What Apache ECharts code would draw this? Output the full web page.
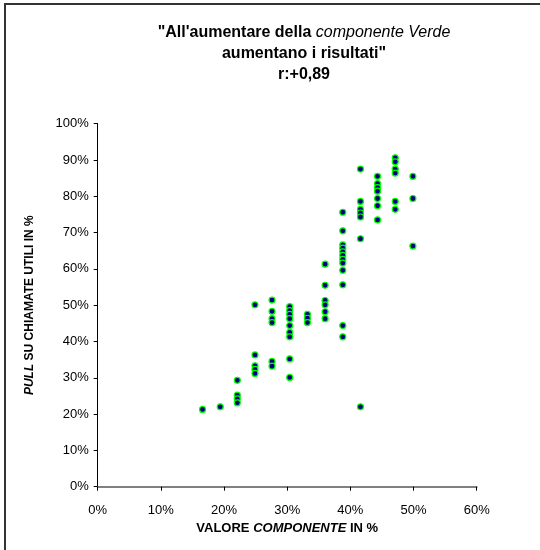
<!DOCTYPE html>
<html>
<head>
<meta charset="utf-8">
<script src="https://cdn.jsdelivr.net/npm/echarts@6/dist/echarts.min.js"></script>
<style>
    html, body { margin: 0; padding: 0; background: #fff; }
    #chart { width: 540px; height: 550px; }
</style>
</head>
<body>
<div id="chart"></div>
<script>
// valore componente verde (%) per colonna
const componente = [16.6, 19.4, 22.1, 24.9, 27.6, 30.4, 33.2, 36.0, 38.8, 41.6, 44.3, 47.1, 49.9]

// pull su chiamate utili (%) per ogni colonna
const pull = [
    [21.3],
    [22.0],
    [29.3, 25.2, 24.2, 23.1],
    [50.1, 36.3, 33.3, 32.3, 31.2],
    [51.4, 48.3, 46.3, 45.2, 34.5, 33.2],
    [49.6, 48.5, 47.5, 46.3, 44.4, 42.5, 41.3, 35.2, 30.1],
    [47.5, 46.4, 45.2],
    [61.3, 55.5, 51.3, 50.1, 48.2, 46.3],
    [75.6, 70.5, 66.6, 65.7, 64.7, 63.7, 62.6, 61.6, 59.6, 55.6, 44.4, 41.3],
    [87.5, 78.6, 76.4, 75.4, 74.3, 68.3, 22.0],
    [85.5, 83.5, 82.4, 81.4, 79.4, 77.4, 73.5],
    [90.6, 89.5, 87.5, 86.4, 78.6, 76.4],
    [85.5, 79.4, 66.3]
]

const xTicks = [0, 10, 20, 30, 40, 50, 60]
const yTicks = [0, 10, 20, 30, 40, 50, 60, 70, 80, 90, 100]

const font = '"Liberation Sans", Arial, sans-serif'

const points = []
componente.forEach((x, i) => {
    pull[i].forEach(y => points.push([x, y]))
})

const myChart = echarts.init(document.getElementById('chart'))
myChart.setOption({
    animation: false,
    backgroundColor: '#fff',
    graphic: [
        {
            type: 'rect',
            shape: { x: 5, y: 4, width: 700, height: 700 },
            style: { fill: 'none', stroke: '#333', lineWidth: 2 },
            silent: true
        },
        {
            type: 'text',
            x: 304,
            y: 22,
            style: {
                text: '{b|"All\'aumentare della }{i|componente Verde}\n{b|aumentano i risultati"}\n{b|r:+0,89}',
                align: 'center',
                rich: {
                    b: { fontFamily: font, fontSize: 16, fontWeight: 'bold', color: '#000', lineHeight: 21 },
                    i: { fontFamily: font, fontSize: 16, fontStyle: 'italic', color: '#000', lineHeight: 21 }
                }
            }
        }
    ],
    grid: {
        left: 97.7,
        right: 63.3,
        top: 123.7,
        bottom: 63.3,
        containLabel: false
    },
    xAxis: {
        type: 'value',
        min: xTicks[0],
        max: xTicks[xTicks.length - 1],
        interval: 10,
        name: '{b|VALORE }{i|COMPONENTE}{b| IN %}',
        nameLocation: 'middle',
        nameGap: 35,
        nameTextStyle: {
            rich: {
                b: { fontFamily: font, fontSize: 13, fontWeight: 'bold', color: '#000' },
                i: { fontFamily: font, fontSize: 13, fontWeight: 'bold', fontStyle: 'italic', color: '#000' }
            }
        },
        axisLine: { show: true, lineStyle: { color: '#808080', width: 2 } },
        axisTick: { show: true, length: 4, inside: false, lineStyle: { color: '#000' } },
        axisLabel: { color: '#000', fontFamily: font, fontSize: 13, margin: 17, formatter: '{value}%' },
        splitLine: { show: false }
    },
    yAxis: {
        type: 'value',
        min: yTicks[0],
        max: yTicks[yTicks.length - 1],
        interval: 10,
        name: '{i|PULL}{b| SU CHIAMATE UTILI IN %}',
        nameLocation: 'middle',
        nameRotate: 90,
        nameGap: 62,
        nameTextStyle: {
            rich: {
                b: { fontFamily: font, fontSize: 12, fontWeight: 'bold', color: '#000' },
                i: { fontFamily: font, fontSize: 12, fontWeight: 'bold', fontStyle: 'italic', color: '#000' }
            }
        },
        axisLine: { show: true, lineStyle: { color: '#000', width: 1 } },
        axisTick: { show: true, length: 4, inside: false, lineStyle: { color: '#000' } },
        axisLabel: { color: '#000', fontFamily: font, fontSize: 13, margin: 9, formatter: '{value}%' },
        splitLine: { show: false }
    },
    series: [{
        type: 'scatter',
        data: points,
        symbol: 'circle',
        symbolSize: 6,
        itemStyle: { color: '#000080', borderColor: '#00ff00', borderWidth: 1.2, opacity: 1 }
    }]
})
</script>
</body>
</html>
